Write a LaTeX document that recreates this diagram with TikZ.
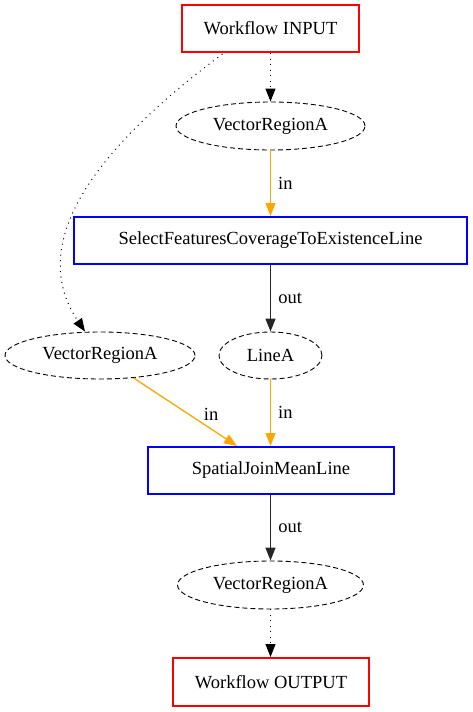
\documentclass[tikz,border=0pt]{standalone}
\usepackage{fontspec}
\setmainfont{Liberation Serif}
\usetikzlibrary{arrows.meta,shapes.geometric,calc}
\definecolor{gvorange}{HTML}{FFA500}
\begin{document}
\begin{tikzpicture}[x=1pt,y=-1pt,
  every node/.style={font=\fontsize{18.5}{20}\selectfont},
  iobox/.style={draw=red,line width=2pt,rectangle,inner sep=0pt},
  procbox/.style={draw=blue,line width=2pt,rectangle,inner sep=0pt},
  dataell/.style={draw,ellipse,dashed,dash pattern=on 5pt off 3pt,line width=0.9pt,inner sep=0pt},
  tip/.style={-{Triangle[length=13pt,width=10pt]}},
  dotedge/.style={tip,line width=1pt,dash pattern=on 1pt off 4.5pt},
  inedge/.style={tip,draw=gvorange,line width=1.3pt,-{Triangle[length=13pt,width=10pt,fill=gvorange]}},
  outedge/.style={tip,draw=black!85,line width=1.5pt},
  lbl/.style={font=\fontsize{18.5}{20}\selectfont,inner sep=0pt}
]
\useasboundingbox (0,0) rectangle (473,712);
\node[iobox,minimum width=177pt,minimum height=47pt] (in) at (270.5,28.5) {Workflow INPUT};
\node[dataell,minimum width=189pt,minimum height=48pt] (v1) at (270.5,126) {VectorRegionA};
\node[procbox,minimum width=393pt,minimum height=47pt] (sel) at (270.5,240.5) {SelectFeaturesCoverageToExistenceLine};
\node[dataell,minimum width=190pt,minimum height=47pt] (v2) at (100,355.5) {VectorRegionA};
\node[dataell,minimum width=103pt,minimum height=47pt] (la) at (270.5,355.5) {LineA};
\node[procbox,minimum width=246pt,minimum height=47pt] (sj) at (271,470.5) {SpatialJoinMeanLine};
\node[dataell,minimum width=186pt,minimum height=48pt] (v3) at (270.5,585) {VectorRegionA};
\node[iobox,minimum width=196pt,minimum height=48pt] (out) at (271,682) {Workflow OUTPUT};

\coordinate (sjin) at ($(sj.north)+(-34,0)$);
\coordinate (instart) at ($(in.south)+(-48,1)$);

\draw[dotedge] (in.south -| v1.north) -- (v1.north);
\draw[dotedge] (instart) .. controls (80,160) and (30,250) .. (v2.north -| 85,0);
\draw[inedge] (v1.south) -- node[lbl,pos=0.5,anchor=west,xshift=7pt]{in} (sel.north -| v1.south);
\draw[outedge] (sel.south -| la.north) -- node[lbl,pos=0.5,anchor=west,xshift=7pt]{out} (la.north);
\draw[inedge] (v2) ++(33.6,22.5) -- node[lbl,pos=0.5,anchor=west,xshift=18pt,yshift=-2pt]{in} (sjin);
\draw[inedge] (la.south) -- node[lbl,pos=0.5,anchor=west,xshift=7pt]{in} (sj.north -| la.south);
\draw[outedge] (sj.south -| v3.north) -- node[lbl,pos=0.5,anchor=west,xshift=7pt]{out} (v3.north);
\draw[dotedge] (v3.south) -- (out.north -| v3.south);
\end{tikzpicture}
\end{document}
